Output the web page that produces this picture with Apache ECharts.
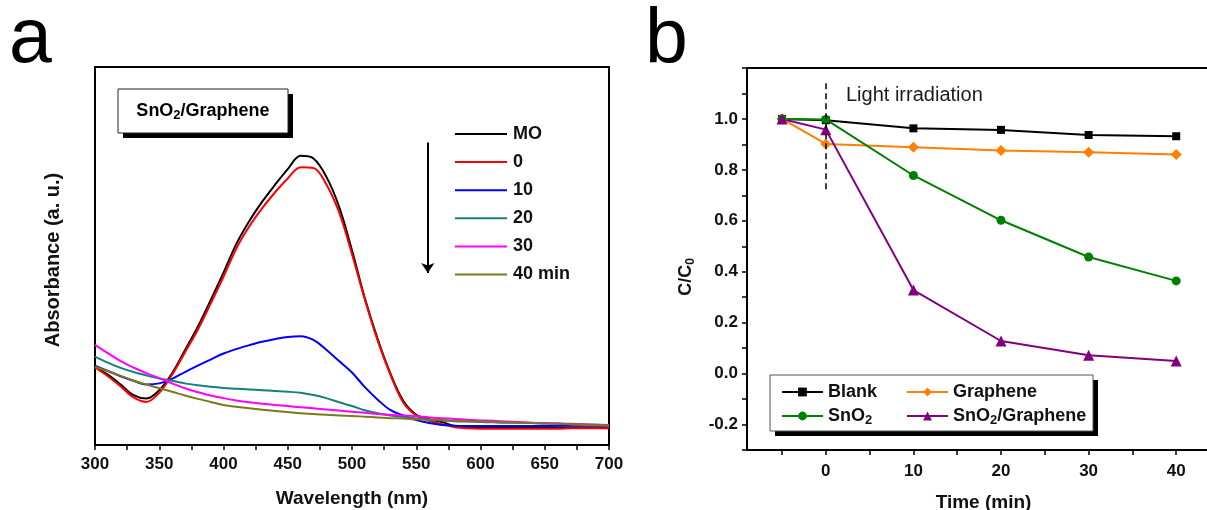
<!DOCTYPE html>
<html><head><meta charset="utf-8">
<script src="https://cdn.jsdelivr.net/npm/echarts@6/dist/echarts.min.js"></script>
<style>html,body{margin:0;padding:0;background:#fff}#c{width:1207px;height:510px}</style>
</head><body><div id="c"></div>
<script>
// ---- Panel a: UV-vis spectra ----
const wavelength = [300,310,320,330,340,350,360,370,380,390,400,410,420,430,440,450,460,470,480,490,500,510,520,530,540,550,560,570,580,590,600,610,620,630,640,650,660,670,680,690,700];
const specMO  = [0.207,0.186,0.160,0.132,0.123,0.145,0.190,0.251,0.313,0.383,0.456,0.532,0.592,0.643,0.688,0.730,0.765,0.758,0.710,0.630,0.515,0.388,0.280,0.188,0.116,0.080,0.068,0.061,0.050,0.047,0.047,0.047,0.046,0.046,0.046,0.046,0.046,0.046,0.046,0.046,0.046];
const spec0   = [0.205,0.182,0.155,0.126,0.114,0.138,0.186,0.245,0.305,0.374,0.445,0.520,0.578,0.626,0.668,0.705,0.735,0.733,0.690,0.615,0.505,0.385,0.276,0.185,0.112,0.078,0.064,0.055,0.047,0.044,0.043,0.043,0.043,0.043,0.043,0.043,0.043,0.044,0.044,0.044,0.044];
const spec10  = [0.210,0.196,0.182,0.170,0.160,0.163,0.175,0.193,0.210,0.226,0.242,0.254,0.264,0.273,0.280,0.286,0.288,0.278,0.252,0.222,0.192,0.153,0.120,0.092,0.078,0.066,0.058,0.053,0.051,0.050,0.050,0.050,0.050,0.050,0.050,0.050,0.051,0.051,0.051,0.051,0.051];
const spec20  = [0.234,0.218,0.204,0.193,0.184,0.176,0.170,0.163,0.158,0.154,0.151,0.149,0.147,0.145,0.143,0.141,0.138,0.132,0.124,0.113,0.103,0.092,0.084,0.078,0.074,0.070,0.067,0.065,0.063,0.062,0.061,0.060,0.059,0.059,0.058,0.057,0.057,0.056,0.055,0.054,0.053];
const spec30  = [0.265,0.243,0.222,0.205,0.190,0.177,0.163,0.150,0.140,0.131,0.124,0.118,0.113,0.109,0.106,0.103,0.100,0.097,0.094,0.091,0.088,0.085,0.082,0.080,0.078,0.076,0.073,0.071,0.069,0.067,0.065,0.064,0.062,0.061,0.059,0.058,0.057,0.055,0.054,0.053,0.052];
const spec40  = [0.207,0.195,0.183,0.170,0.160,0.150,0.141,0.131,0.122,0.114,0.106,0.101,0.097,0.093,0.090,0.087,0.084,0.082,0.080,0.078,0.077,0.075,0.073,0.071,0.070,0.068,0.067,0.066,0.064,0.063,0.062,0.061,0.060,0.059,0.058,0.057,0.056,0.055,0.053,0.052,0.051];
const specNames = ['MO','0','10','20','30','40 min'];
const specColors = ['#000000','#ff0000','#0000ff','#16807a','#ff00ff','#7a7a1a'];
const specData = [specMO, spec0, spec10, spec20, spec30, spec40];
const wlTickLabels = [300,350,400,450,500,550,600,650,700];

// ---- Panel b: kinetics ----
const timeMin = [-5, 0, 10, 20, 30, 40];
const cBlank    = [1.000, 0.995, 0.963, 0.957, 0.937, 0.932];
const cGraphene = [1.000, 0.902, 0.889, 0.876, 0.869, 0.860];
const cSnO2     = [1.000, 0.998, 0.778, 0.602, 0.458, 0.364];
const cSnO2G    = [1.000, 0.958, 0.328, 0.128, 0.072, 0.049];
const kinNames = ['Blank','Graphene','SnO2','SnO2/Graphene'];
const kinColors = ['#000000','#ff8000','#008000','#800080'];
const kinSymbols = ['rect','diamond','circle','triangle'];
const kinSizes = [8, 11, 9, 11];
const kinData = [cBlank, cGraphene, cSnO2, cSnO2G];
const timeTicks = [-5,0,5,10,15,20,25,30,35,40,45];
const timeTickLabels = [0,10,20,30,40];

const FF = 'Arial, "Liberation Sans", sans-serif';
const chart = echarts.init(document.getElementById('c'), null, {renderer:'canvas'});

const zip = (xs, ys) => xs.map((x,i)=>[x, ys[i]]);
const series = [];
specData.forEach((d,i)=>{
  const s = {
    name: specNames[i], type:'line', xAxisIndex:0, yAxisIndex:0,
    data: zip(wavelength, d), showSymbol:false, symbol:'none', smooth:0.35,
    lineStyle:{color:specColors[i], width:2}, itemStyle:{color:specColors[i]}, z:2
  };
  if (i === 0) {
    s.markLine = {
      silent:true, symbol:['none','arrow'], symbolSize:10,
      label:{show:false},
      lineStyle:{color:'#000', width:2, type:'solid'},
      data:[[{coord:[559,0.80]},{coord:[559,0.455]}]]
    };
  }
  series.push(s);
});
kinData.forEach((d,i)=>{
  const s = {
    name: kinNames[i], type:'line', xAxisIndex:1, yAxisIndex:1,
    data: zip(timeMin, d), symbol:kinSymbols[i], symbolSize:kinSizes[i],
    lineStyle:{color:kinColors[i], width:2}, itemStyle:{color:kinColors[i]}, z:3
  };
  if (i === 0) {
    s.markLine = {
      silent:true, symbol:['none','none'], label:{show:false},
      lineStyle:{color:'#000', width:1.5, type:[6,4]},
      data:[[{coord:[0,1.14]},{coord:[0,0.72]}]]
    };
  }
  series.push(s);
});

const tickLab = {fontFamily:FF, fontWeight:'bold', fontSize:17, color:'#111'};
const nameStyle = {fontFamily:FF, fontWeight:'bold', fontSize:19, color:'#111'};
const subRich = {
  t:{fontFamily:FF, fontWeight:'bold', fontSize:18, color:'#111', lineHeight:22},
  s:{fontFamily:FF, fontWeight:'bold', fontSize:13, color:'#111', lineHeight:4, verticalAlign:'bottom'},
  sw:{fontFamily:FF, fontWeight:'bold', fontSize:13, color:'#111', lineHeight:4, verticalAlign:'bottom', width:39, align:'left'},
  w:{fontFamily:FF, fontWeight:'bold', fontSize:18, color:'#111', lineHeight:22, width:76, align:'left'}
};

const option = {
  animation:false,
  backgroundColor:'#ffffff',
  grid:[
    {left:95, top:67, width:514, height:378, outerBoundsMode:'none', containLabel:false,
     show:true, borderColor:'#000', borderWidth:2, backgroundColor:'transparent'},
    {left:747, top:68, width:473, height:382, outerBoundsMode:'none', containLabel:false,
     show:true, borderColor:'#000', borderWidth:2, backgroundColor:'transparent'}
  ],
  xAxis:[
    {gridIndex:0, type:'value', min:300, max:700, interval:25,
     axisLine:{show:true, onZero:false, lineStyle:{color:'#000', width:2}},
     axisTick:{show:true, inside:false, length:5, lineStyle:{color:'#000', width:1.5}},
     axisLabel:{...tickLab, margin:11, customValues:wlTickLabels},
     splitLine:{show:false},
     name:'Wavelength (nm)', nameLocation:'middle', nameGap:44, nameTextStyle:nameStyle},
    {gridIndex:1, type:'value', min:-9, max:45,
     axisLine:{show:true, onZero:false, lineStyle:{color:'#000', width:2}},
     axisTick:{show:true, inside:false, length:5, lineStyle:{color:'#000', width:1.5}, customValues:timeTicks},
     axisLabel:{...tickLab, margin:13, customValues:timeTickLabels},
     splitLine:{show:false},
     name:'Time (min)', nameLocation:'middle', nameGap:43, nameTextStyle:nameStyle}
  ],
  yAxis:[
    {gridIndex:0, type:'value', min:0, max:1,
     axisLine:{show:true, onZero:false, lineStyle:{color:'#000', width:2}},
     axisTick:{show:false}, axisLabel:{show:false}, splitLine:{show:false},
     name:'Absorbance (a. u.)', nameLocation:'middle', nameGap:32, nameRotate:90,
     nameTextStyle:{...nameStyle, fontSize:20, padding:[0,8,0,0]}},
    {gridIndex:1, type:'value', min:-0.3, max:1.2, interval:0.1,
     axisLine:{show:true, onZero:false, lineStyle:{color:'#000', width:2}},
     axisTick:{show:true, inside:false, length:5, lineStyle:{color:'#000', width:1.5}},
     axisLabel:{...tickLab, margin:9, formatter:v=>{
        const r = Math.round(v*10);
        if (r % 2 !== 0 || r > 10) return '';
        return (r/10).toFixed(1);
     }},
     splitLine:{show:false},
     name:'{a|C/C}{b|0}', nameLocation:'middle', nameGap:50, nameRotate:90,
     nameTextStyle:{padding:[0,36,0,0], rich:{
        a:{fontFamily:FF, fontWeight:'bold', fontSize:18, color:'#111', lineHeight:22},
        b:{fontFamily:FF, fontWeight:'bold', fontSize:12, color:'#111', lineHeight:4, verticalAlign:'bottom'}
     }}}
  ],
  legend:[
    {data:specNames, orient:'vertical', left:455, top:124, padding:0,
     icon:'rect', itemWidth:52, itemHeight:2, itemGap:8.1,
     textStyle:{fontFamily:FF, fontWeight:'bold', fontSize:18, color:'#111', lineHeight:20, padding:[0,0,0,1]},
     selectedMode:false},
    {data:kinNames, orient:'horizontal', left:770, top:373, width:330,
     padding:[8,8,8,11], itemWidth:41, itemHeight:11, itemGap:2,
     selectedMode:false,
     textStyle:{fontFamily:FF, fontWeight:'bold', fontSize:18, color:'#111', lineHeight:22, rich:subRich},
     formatter:(n)=>{
       if (n==='Blank') return '{w|Blank}';
       if (n==='Graphene') return '{t|Graphene}';
       if (n==='SnO2') return '{t|SnO}{sw|2}';
       return '{t|SnO}{s|2}{t|/Graphene}';
     }}
  ],
  graphic:[
    {type:'text', x:9, y:41, style:{text:'a', font:'normal 77px '+FF, fill:'#000', verticalAlign:'middle', align:'left'}},
    {type:'text', x:645, y:42, style:{text:'b', font:'normal 77px '+FF, fill:'#000', verticalAlign:'middle', align:'left'}},
    {type:'rect', shape:{x:123, y:94, width:170, height:44}, style:{fill:'#000'}, z:1},
    {type:'rect', shape:{x:118, y:89, width:170, height:44}, style:{fill:'#fff', stroke:'#222', lineWidth:1}, z:1},
    {type:'text', x:203, y:111, z:2, style:{
       text:'{t|SnO}{s|2}{t|/Graphene}', align:'center', verticalAlign:'middle',
       rich:subRich}},
    {type:'rect', shape:{x:775, y:380, width:323, height:56}, style:{fill:'#000'}, z:1},
    {type:'rect', shape:{x:770, y:375, width:323, height:56}, style:{fill:'#fff', stroke:'#555', lineWidth:1}, z:1},
    {type:'text', x:846, y:95, z:2, style:{text:'Light irradiation', font:'normal 20px '+FF, fill:'#1a1a1a', verticalAlign:'middle', align:'left'}}
  ],
  series:series
};
chart.setOption(option);
</script>
</body></html>
